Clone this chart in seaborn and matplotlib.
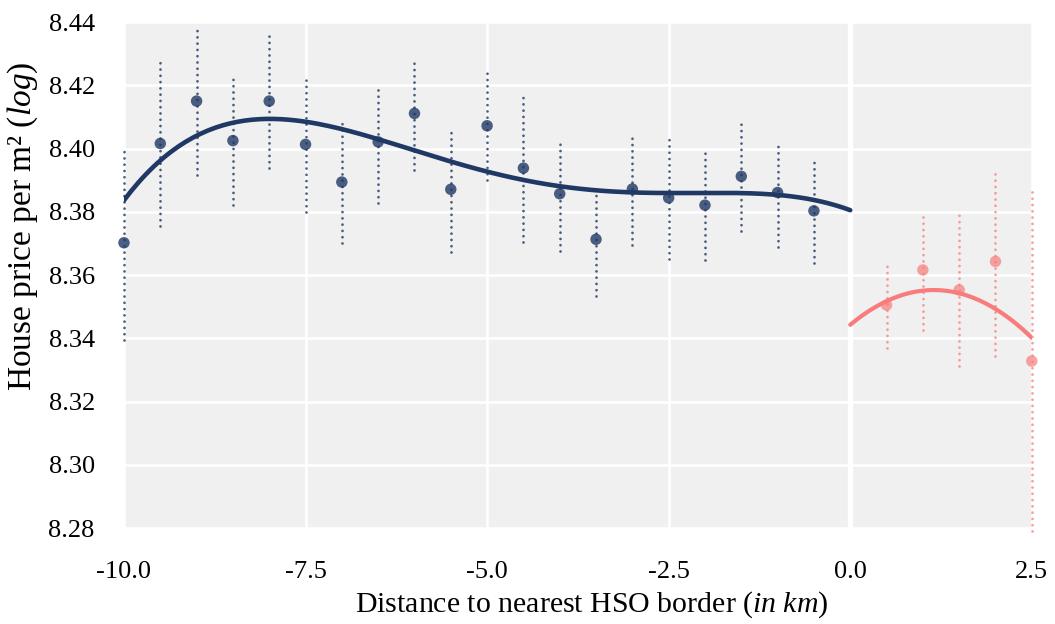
import numpy as np
import pandas as pd
import matplotlib
matplotlib.use("Agg")
import matplotlib.pyplot as plt
import seaborn as sns

# ---- data ----
left_x = [-10.0, -9.5, -9.0, -8.5, -8.0, -7.5, -7.0, -6.5, -6.0, -5.5,
          -5.0, -4.5, -4.0, -3.5, -3.0, -2.5, -2.0, -1.5, -1.0, -0.5]
left_y = [8.3702, 8.4016, 8.4150, 8.4025, 8.4150, 8.4013, 8.3894, 8.4021, 8.4111, 8.3871,
          8.4072, 8.3938, 8.3857, 8.3713, 8.3872, 8.3844, 8.3821, 8.3912, 8.3861, 8.3803]
left_lo = [8.3394, 8.3756, 8.3917, 8.3821, 8.3940, 8.3800, 8.3701, 8.3829, 8.3931, 8.3674,
           8.3900, 8.3706, 8.3677, 8.3535, 8.3696, 8.3650, 8.3648, 8.3739, 8.3688, 8.3638]
left_hi = [8.4008, 8.4273, 8.4375, 8.4222, 8.4362, 8.4221, 8.4084, 8.4195, 8.4278, 8.4055,
           8.4244, 8.4166, 8.4023, 8.3879, 8.4040, 8.4034, 8.3992, 8.4087, 8.4015, 8.3966]

right_x = [0.5, 1.0, 1.5, 2.0, 2.5]
right_y = [8.3505, 8.3616, 8.3553, 8.3643, 8.3328]
right_lo = [8.3368, 8.3427, 8.3313, 8.3344, 8.2790]
right_hi = [8.3635, 8.3793, 8.3793, 8.3922, 8.3866]

# fitted curves
fit_left_x = [-10.0, -9.5, -9.0, -8.5, -8.0, -7.5, -7.0, -6.5, -6.0, -5.5, -5.0,
              -4.5, -4.0, -3.5, -3.0, -2.5, -2.0, -1.5, -1.0, -0.5, 0.0]
fit_left_y = [8.3835, 8.3964, 8.4043, 8.4077, 8.4093, 8.4084, 8.4066, 8.4031, 8.3990, 8.3958, 8.3929,
              8.3900, 8.3881, 8.3868, 8.3862, 8.3859, 8.3858, 8.3860, 8.3854, 8.3837, 8.3805]
fit_right_x = [0.0, 0.5, 1.0, 1.5, 2.0, 2.5]
fit_right_y = [8.3447, 8.3510, 8.3548, 8.3549, 8.3494, 8.3399]

x_ticks = [-10.0, -7.5, -5.0, -2.5, 0.0, 2.5]
y_ticks = [8.28, 8.30, 8.32, 8.34, 8.36, 8.38, 8.40, 8.42, 8.44]

navy = "#1f3864"
salmon = "#f87c7c"

sns.set_theme(style="darkgrid")
plt.rcParams["font.family"] = ["Liberation Serif", "DejaVu Serif"]
plt.rcParams["mathtext.fontset"] = "custom"
plt.rcParams["mathtext.rm"] = "Liberation Serif"
plt.rcParams["mathtext.it"] = "Liberation Serif:italic"

fig = plt.figure(figsize=(10.55, 6.24), dpi=100)
ax = fig.add_axes([0.1175, 0.1538, 0.8605, 0.8109])
ax.set_facecolor("#f0f0f0")
ax.grid(True, color="white", linewidth=1.8)
ax.set_axisbelow(True)
for s in ax.spines.values():
    s.set_visible(False)
ax.axvline(0, color="white", linewidth=3.8, zorder=0.5)

dfl = pd.DataFrame({"x": left_x, "y": left_y, "lo": left_lo, "hi": left_hi})
dfr = pd.DataFrame({"x": right_x, "y": right_y, "lo": right_lo, "hi": right_hi})

def draw_ci(df, color, alpha):
    lc = ax.vlines(df["x"], df["lo"], df["hi"], colors=color, alpha=alpha,
                   linewidth=2.0, zorder=2, clip_on=False)
    lc.set_linestyle((0, (0.01, 2.25)))
    lc.set_capstyle("round")

draw_ci(dfl, navy, 0.8)
draw_ci(dfr, salmon, 0.75)

sns.scatterplot(data=dfl, x="x", y="y", color=navy, alpha=0.8, s=68,
                edgecolor="none", ax=ax, zorder=3, clip_on=False)
sns.scatterplot(data=dfr, x="x", y="y", color=salmon, alpha=0.7, s=68,
                edgecolor="none", ax=ax, zorder=3, clip_on=False)

# smooth polynomial through the read curve values
xl = np.linspace(-10, 0, 200)
pl = np.polyfit(fit_left_x, fit_left_y, 5)
xr = np.linspace(0, 2.5, 100)
pr = np.polyfit(fit_right_x, fit_right_y, 2)
sns.lineplot(x=xl, y=np.polyval(pl, xl), color=navy, linewidth=3.3, ax=ax, zorder=4)
sns.lineplot(x=xr, y=np.polyval(pr, xr), color=salmon, linewidth=3.0, ax=ax, zorder=4)

ax.set_xlim(-10, 2.5)
ax.set_ylim(8.28, 8.44)
ax.set_xticks(x_ticks)
ax.set_xticklabels([f"{v:.1f}" for v in x_ticks])
ax.set_yticks(y_ticks)
ax.set_yticklabels([f"{v:.2f}" for v in y_ticks])
ax.tick_params(axis="both", length=0, labelsize=19, colors="black")
ax.tick_params(axis="y", pad=21)
ax.tick_params(axis="x", pad=24)

ax.set_xlabel(r"Distance to nearest HSO border $\mathit{(in\ km)}$", fontsize=21.5,
              color="black")
ax.set_ylabel(r"House price per m² $\mathit{(log)}$", fontsize=24, color="black")
ax.xaxis.set_label_coords(0.515, -0.152)
ax.yaxis.set_label_coords(-0.112, 0.597)
ax.xaxis.label.set_va("center")
ax.yaxis.label.set_va("center")

fig.savefig("out.png", dpi=100)
